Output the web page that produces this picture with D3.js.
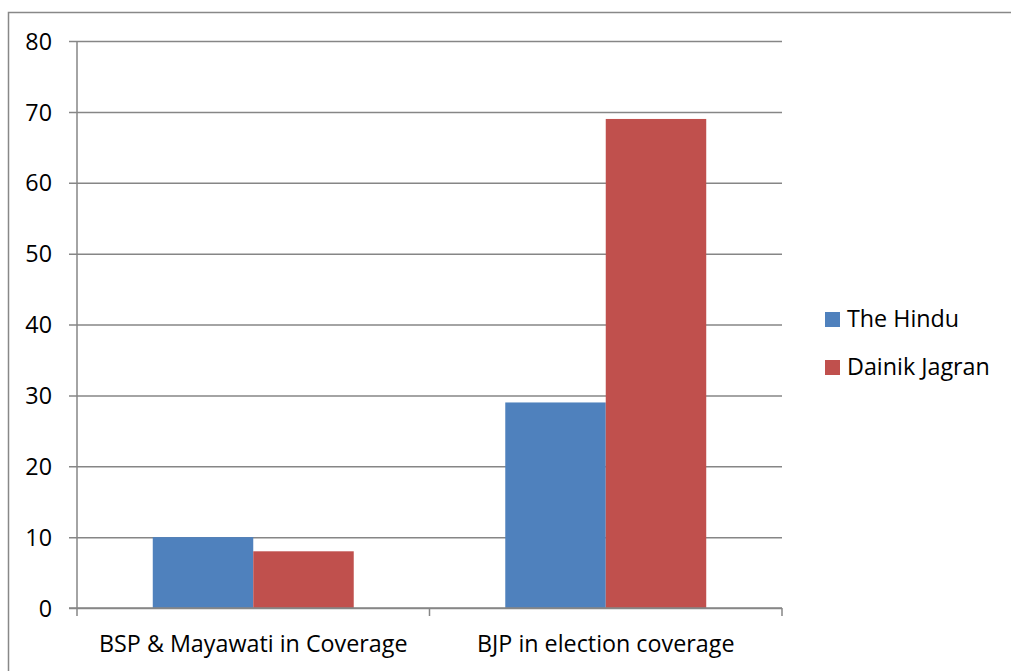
<!DOCTYPE html>
<html>
<head>
<meta charset="utf-8">
<script src="https://cdn.jsdelivr.net/npm/d3@7"></script>
<style>
  html, body { margin: 0; padding: 0; background: #fff; }
  svg text { font-family: "Open Sans", "Liberation Sans", sans-serif; fill: #000; }
</style>
</head>
<body>
<svg class="chart" width="1011" height="671"></svg>
<script>
  const CATEGORIES = ['BSP & Mayawati in Coverage', 'BJP in election coverage'];
  const SERIES = ['The Hindu', 'Dainik Jagran'];
  const THE_HINDU = [10, 29];
  const DAINIK_JAGRAN = [8, 69];
  const Y_TICKS = [0, 10, 20, 30, 40, 50, 60, 70, 80];
  const COLORS = ['#4F81BD', '#C0504D'];

  let svg = d3.select('.chart'),
    plotLeft = 77,
    plotRight = 782,
    plotTop = 41,
    plotBottom = 608,
    fontSize = 23.3,
    gridColor = '#868686';

  // outer frame (top + left only)
  svg.append('path')
    .attr('d', 'M8.5,671 V12.5 H1011')
    .attr('fill', 'none')
    .attr('stroke', '#888')
    .attr('stroke-width', 1.5);

  let x = d3.scaleBand()
    .domain(CATEGORIES)
    .range([plotLeft, plotRight])
    .padding(0);

  let xs = d3.scaleBand()
    .domain(SERIES)
    .range([0, x.bandwidth()])
    .paddingInner(0)
    .paddingOuter(0.754);

  let y = d3.scaleLinear()
    .domain([0, 80])
    .range([plotBottom, plotTop]);

  /*
   * gridlines + y ticks
   */
  let yAxis = svg.append('g')
    .attr('transform', 'translate(' + plotLeft + ',0)')
    .call(d3.axisLeft(y).tickValues(Y_TICKS).tickSize(8).tickPadding(17).tickFormat(d3.format('d')));
  yAxis.select('.domain').remove();
  yAxis.selectAll('.tick line')
    .attr('stroke', gridColor)
    .attr('stroke-width', 1.5)
    .attr('x2', -8)
    .attr('x1', plotRight - plotLeft);
  yAxis.selectAll('.tick text')
    .attr('font-size', fontSize)
    .attr('font-family', '"Open Sans", sans-serif')
    .attr('dy', '0.35em');

  /*
   * bars
   */
  let rows = SERIES.map(function (s, si) {
    return CATEGORIES.map(function (c, ci) {
      return { series: s, cat: c, value: si === 0 ? THE_HINDU[ci] : DAINIK_JAGRAN[ci], idx: si };
    });
  }).flat();

  svg.selectAll('rect.bar')
    .data(rows)
    .enter()
    .append('rect')
    .attr('class', 'bar')
    .attr('x', function (d) { return x(d.cat) + xs(d.series); })
    .attr('y', function (d) { return y(d.value); })
    .attr('width', xs.bandwidth())
    .attr('height', function (d) { return y(0) - y(d.value); })
    .attr('fill', function (d) { return COLORS[d.idx]; });

  /*
   * axis lines
   */
  svg.append('line')
    .attr('x1', plotLeft).attr('x2', plotLeft)
    .attr('y1', plotTop).attr('y2', plotBottom + 8)
    .attr('stroke', gridColor).attr('stroke-width', 1.5);
  svg.append('line')
    .attr('x1', plotLeft - 8).attr('x2', plotRight)
    .attr('y1', plotBottom).attr('y2', plotBottom)
    .attr('stroke', gridColor).attr('stroke-width', 1.5);

  let xAxis = svg.append('g')
    .attr('transform', 'translate(0,' + plotBottom + ')')
    .call(d3.axisBottom(x).tickSize(0));
  xAxis.select('.domain').remove();
  xAxis.selectAll('.tick text')
    .attr('font-size', fontSize)
    .attr('font-family', '"Open Sans", sans-serif')
    .attr('dy', '0.71em')
    .attr('y', 27);

  // category boundary ticks
  let bounds = CATEGORIES.map(function (c) { return x(c) + x.bandwidth(); });
  svg.selectAll('line.ctick')
    .data(bounds)
    .enter()
    .append('line')
    .attr('class', 'ctick')
    .attr('x1', function (d) { return d; })
    .attr('x2', function (d) { return d; })
    .attr('y1', plotBottom)
    .attr('y2', plotBottom + 8)
    .attr('stroke', gridColor)
    .attr('stroke-width', 1.5);

  /*
   * legend
   */
  let legend = svg.selectAll('g.legend')
    .data(SERIES)
    .enter()
    .append('g')
    .attr('class', 'legend')
    .attr('transform', function (d, i) { return 'translate(825,' + (312 + i * 48) + ')'; });
  legend.append('rect')
    .attr('width', 15)
    .attr('height', 15)
    .attr('fill', function (d, i) { return COLORS[i]; });
  legend.append('text')
    .attr('x', 22)
    .attr('y', 15)
    .attr('font-size', fontSize)
    .text(function (d) { return d; });
</script>
</body>
</html>
